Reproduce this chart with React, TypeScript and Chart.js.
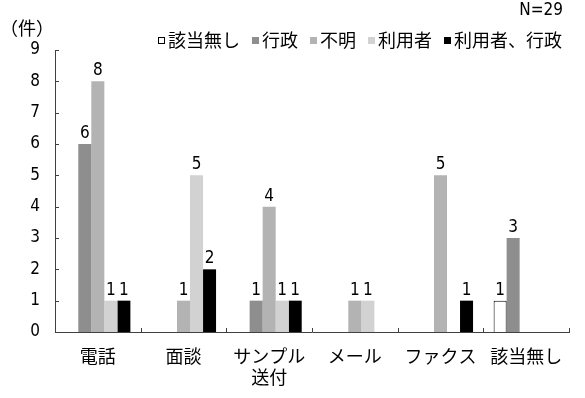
import React, { useEffect, useRef } from "react";
import { Chart, registerables } from "chart.js";

Chart.register(...registerables);

const categories: (string | string[])[] = ["電話", "面談", ["サンプル", "送付"], "メール", "ファクス", "該当無し"];
const seriesNames = ["該当無し", "行政", "不明", "利用者", "利用者、行政"];
const gaitouNashi = [0, 0, 0, 0, 0, 1];
const gyousei = [6, 0, 1, 0, 0, 3];
const fumei = [8, 1, 4, 1, 5, 0];
const riyousha = [1, 5, 1, 1, 0, 0];
const riyoushaGyousei = [1, 2, 1, 0, 1, 0];
const yTicks = [0, 1, 2, 3, 4, 5, 6, 7, 8, 9];
const unitLabel = "（件）";
const nLabel = "N=29";

const fills = ["#ffffff", "#8e8e8e", "#b3b3b3", "#d2d2d2", "#000000"];
const CJK = '"Noto Sans CJK JP", "Noto Sans", sans-serif';
const NARROW = '"Liberation Sans Narrow", "DejaVu Sans Condensed", "Liberation Sans", sans-serif';

const overlay = {
  id: "overlay",
  afterDraw(chart: any) {
    const ctx = chart.ctx;
    const xs = chart.scales.x;
    const ys = chart.scales.y;
    const area = chart.chartArea;
    ctx.save();
    // inward ticks
    ctx.strokeStyle = "#404040";
    ctx.lineWidth = 1;
    ctx.beginPath();
    for (const v of yTicks) {
      const y = Math.round(ys.getPixelForValue(v)) + 0.5;
      ctx.moveTo(area.left, y);
      ctx.lineTo(area.left + 4, y);
    }
    for (let i = 0; i <= categories.length; i++) {
      const x = Math.round(xs.getPixelForValue(i - 0.5)) + 0.5;
      ctx.moveTo(x, area.bottom);
      ctx.lineTo(x, area.bottom - 4);
    }
    ctx.stroke();
    // data labels
    ctx.fillStyle = "#000";
    ctx.font = "17px " + NARROW;
    ctx.textAlign = "center";
    ctx.textBaseline = "alphabetic";
    chart.data.datasets.forEach((ds: any, di: number) => {
      const meta = chart.getDatasetMeta(di);
      meta.data.forEach((bar: any, i: number) => {
        const v = ds.data[i];
        if (!v) return;
        ctx.fillText(String(v), bar.x, bar.y - 6);
      });
    });
    // legend
    ctx.font = "18px " + CJK;
    ctx.textBaseline = "middle";
    ctx.textAlign = "left";
    let x = 158;
    const ly = 40;
    seriesNames.forEach((name, i) => {
      ctx.fillStyle = fills[i];
      ctx.fillRect(x, ly - 3, 7, 7);
      if (i === 0) {
        ctx.strokeStyle = "#000";
        ctx.strokeRect(x + 0.5, ly - 2.5, 6, 6);
      }
      ctx.fillStyle = "#000";
      ctx.fillText(name, x + 10, ly);
      x += 10 + ctx.measureText(name).width + 12;
    });
    // unit and N
    ctx.font = "18px " + CJK;
    ctx.textAlign = "center";
    ctx.fillText(unitLabel, 27, 28);
    ctx.font = "17px " + NARROW;
    ctx.textAlign = "right";
    ctx.fillText(nLabel, 563, 11);
    ctx.restore();
  },
};

export default function App() {
  const ref = useRef<HTMLCanvasElement>(null);
  useEffect(() => {
    document.body.style.margin = "0";
    const values = [gaitouNashi, gyousei, fumei, riyousha, riyoushaGyousei];
    const chart = new Chart(ref.current!, {
      type: "bar",
      data: {
        labels: categories,
        datasets: seriesNames.map((name, i) => ({
          label: name,
          data: values[i],
          backgroundColor: fills[i],
          borderColor: i === 0 ? "#000" : fills[i],
          borderWidth: i === 0 ? 1 : 0,
          categoryPercentage: 0.76,
          barPercentage: 1,
        })),
      },
      options: {
        animation: false,
        responsive: false,
        layout: { padding: { top: 50, right: 16, left: 0, bottom: 0 } },
        plugins: { legend: { display: false }, tooltip: { enabled: false } },
        scales: {
          x: {
            grid: { display: false, drawTicks: false },
            border: { display: true, color: "#404040", width: 1 },
            ticks: { color: "#000", font: { size: 18, family: CJK }, padding: 13, maxRotation: 0, autoSkip: false },
            afterFit: (s: any) => { s.height = 66; },
          },
          y: {
            min: 0,
            max: 9,
            grid: { display: false, drawTicks: false },
            border: { display: true, color: "#404040", width: 1 },
            ticks: { stepSize: 1, color: "#000", font: { size: 17, family: NARROW }, padding: 15 },
            afterFit: (s: any) => { s.width = 55; },
          },
        },
      },
      plugins: [overlay],
    });
    return () => chart.destroy();
  }, []);
  return (
    <div style={{ width: 585, height: 398 }}>
      <canvas ref={ref} width={585} height={398} />
    </div>
  );
}
